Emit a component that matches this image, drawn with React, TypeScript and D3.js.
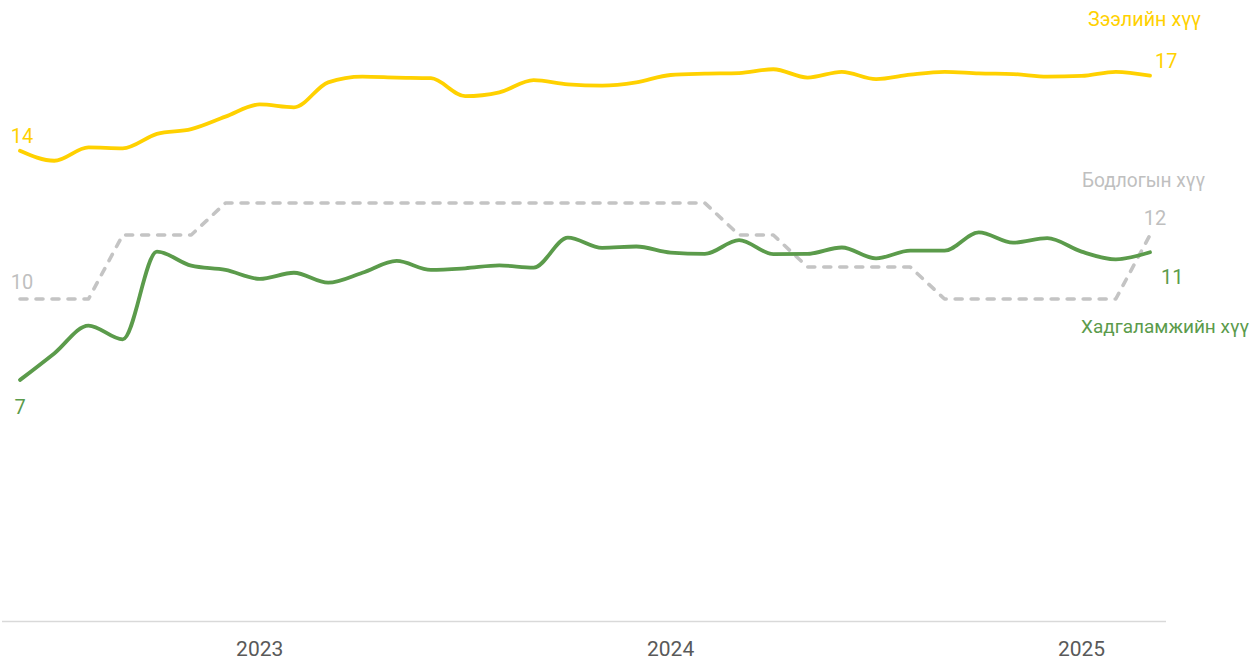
import React from "react";
import * as d3 from "d3";

// monthly, Jun 2022 .. Mar 2025
const months = [
  "2022-06", "2022-07", "2022-08", "2022-09", "2022-10", "2022-11", "2022-12",
  "2023-01", "2023-02", "2023-03", "2023-04", "2023-05", "2023-06", "2023-07",
  "2023-08", "2023-09", "2023-10", "2023-11", "2023-12", "2024-01", "2024-02",
  "2024-03", "2024-04", "2024-05", "2024-06", "2024-07", "2024-08", "2024-09",
  "2024-10", "2024-11", "2024-12", "2025-01", "2025-02", "2025-03",
];

const loanRate = [
  14.63, 14.32, 14.74, 14.71, 15.16, 15.31, 15.7, 16.08, 15.99, 16.77, 16.95,
  16.92, 16.9, 16.34, 16.46, 16.84, 16.71, 16.67, 16.77, 17.0, 17.04, 17.06,
  17.18, 16.92, 17.1, 16.87, 17.01, 17.1, 17.05, 17.03, 16.95, 16.97, 17.1, 16.98,
];

const policyRate = [
  10, 10, 10, 12, 12, 12, 13, 13, 13, 13, 13, 13, 13, 13, 13, 13, 13, 13, 13, 13,
  13, 12, 12, 11, 11, 11, 11, 10, 10, 10, 10, 10, 10, 12,
];

const depositRate = [
  7.47, 8.3, 9.17, 8.74, 11.48, 11.04, 10.91, 10.63, 10.82, 10.51, 10.82, 11.19,
  10.91, 10.96, 11.05, 10.98, 11.92, 11.6, 11.64, 11.45, 11.41, 11.84, 11.4,
  11.41, 11.61, 11.27, 11.51, 11.51, 12.08, 11.76, 11.9, 11.48, 11.24, 11.46,
];

const yearTicks = ["2023-01", "2024-01", "2025-01"];
const seriesNames = ["Зээлийн хүү", "Бодлогын хүү", "Хадгаламжийн хүү"];
const startLabels = ["14", "10", "7"];
const endLabels = ["17", "12", "11"];

const W = 1255;
const H = 661;
const YELLOW = "#FFD100";
const GREEN = "#5B9B4B";
const GREY = "#C4C4C4";
const FONT = "Roboto, 'Noto Sans', sans-serif";

export default function App() {
  const x = d3.scalePoint<string>().domain(months).range([20, 1150]);
  const y = d3.scaleLinear().domain([0, 17]).range([619, 75]);

  const smooth = d3
    .line<number>()
    .x((_, i) => x(months[i]) as number)
    .y((d) => y(d))
    .curve(d3.curveMonotoneX);
  const straight = d3
    .line<number>()
    .x((_, i) => x(months[i]) as number)
    .y((d) => y(d));

  const first = x(months[0]) as number;
  const last = x(months[months.length - 1]) as number;
  const n = months.length - 1;

  return (
    <svg
      width={W}
      height={H}
      style={{ position: "absolute", left: 0, top: 0, background: "#fff" }}
      fontFamily={FONT}
    >
      {/* baseline */}
      <line x1={2} x2={1166} y1={621.5} y2={621.5} stroke="#D9D9D9" strokeWidth={1.5} />
      {yearTicks.map((t) => (
        <text
          key={t}
          x={x(t)}
          y={656}
          textAnchor="middle"
          fontSize={21}
          fill="#595959"
        >
          {t.slice(0, 4)}
        </text>
      ))}

      <path
        d={straight(policyRate) || ""}
        fill="none"
        stroke={GREY}
        strokeWidth={3.6}
        strokeDasharray="7 9"
        strokeLinecap="round"
        strokeLinejoin="round"
      />
      <path
        d={smooth(depositRate) || ""}
        fill="none"
        stroke={GREEN}
        strokeWidth={3.8}
        strokeLinecap="round"
      />
      <path
        d={smooth(loanRate) || ""}
        fill="none"
        stroke={YELLOW}
        strokeWidth={3.8}
        strokeLinecap="round"
      />

      {/* start values */}
      <text x={first + 2} y={y(loanRate[0]) - 8} textAnchor="middle" fontSize={20} fill={YELLOW}>
        {startLabels[0]}
      </text>
      <text x={first + 2} y={y(policyRate[0]) - 10} textAnchor="middle" fontSize={20} fill="#BFBFBF">
        {startLabels[1]}
      </text>
      <text x={first} y={y(depositRate[0]) + 34} textAnchor="middle" fontSize={20} fill={GREEN}>
        {startLabels[2]}
      </text>

      {/* end values */}
      <text x={last + 5} y={y(loanRate[n]) - 8} fontSize={20} fill={YELLOW}>
        {endLabels[0]}
      </text>
      <text x={last + 5} y={y(policyRate[n]) - 10} textAnchor="middle" fontSize={20} fill="#BFBFBF">
        {endLabels[1]}
      </text>
      <text x={last + 11} y={y(depositRate[n]) + 32} fontSize={20} fill={GREEN}>
        {endLabels[2]}
      </text>

      {/* series names */}
      <text x={1088} y={26} fontSize={20} fill={YELLOW} textLength={113} lengthAdjust="spacingAndGlyphs">
        {seriesNames[0]}
      </text>
      <text x={1082} y={187} fontSize={20} fill="#BFBFBF" textLength={123} lengthAdjust="spacingAndGlyphs">
        {seriesNames[1]}
      </text>
      <text x={1081} y={333} fontSize={19} fill={GREEN} textLength={168} lengthAdjust="spacingAndGlyphs">
        {seriesNames[2]}
      </text>
    </svg>
  );
}
